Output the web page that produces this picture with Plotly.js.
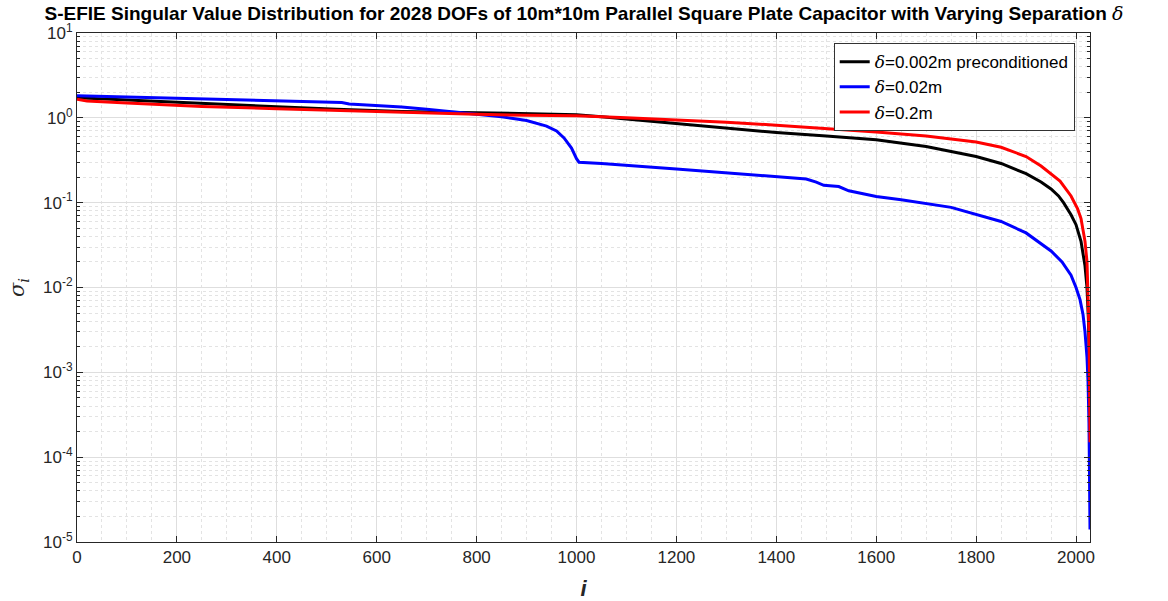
<!DOCTYPE html>
<html>
<head>
<meta charset="utf-8">
<script src="https://cdn.plot.ly/plotly-3.0.1.min.js"></script>
<style>html,body{margin:0;padding:0;background:#fff;}#chart{width:1168px;height:601px;}</style>
</head>
<body>
<div id="chart"></div>
<script>
// ---- Data ----
var seriesNames = ["δ=0.002m preconditioned", "δ=0.02m", "δ=0.2m"];

var blackI = [0, 100, 250, 400, 520, 650, 800, 950, 1000, 1050, 1100, 1200, 1300, 1350, 1400, 1500, 1600, 1700, 1800, 1850, 1900, 1930, 1950, 1965, 1975, 1990, 2000, 2010, 2018, 2022, 2025, 2028];
var blackS = [1.73, 1.62, 1.47, 1.35, 1.26, 1.19, 1.15, 1.12, 1.09, 1.03, 0.97, 0.86, 0.76, 0.71, 0.67, 0.61, 0.55, 0.46, 0.35, 0.29, 0.22, 0.175, 0.145, 0.12, 0.10, 0.072, 0.055, 0.035, 0.018, 0.01, 0.004, 0.0005];

var blueI = [0, 100, 200, 300, 400, 520, 530, 545, 600, 650, 700, 750, 800, 850, 900, 940, 960, 975, 990, 1000, 1005, 1050, 1200, 1400, 1460, 1480, 1495, 1525, 1545, 1600, 1650, 1750, 1850, 1900, 1950, 1972, 1990, 2000, 2008, 2014, 2018, 2022, 2024, 2026, 2027, 2028];
var blueS = [1.82, 1.76, 1.71, 1.65, 1.60, 1.54, 1.52, 1.46, 1.40, 1.34, 1.26, 1.18, 1.11, 1.03, 0.93, 0.80, 0.70, 0.58, 0.44, 0.33, 0.30, 0.29, 0.25, 0.205, 0.19, 0.175, 0.16, 0.155, 0.138, 0.118, 0.108, 0.088, 0.060, 0.044, 0.027, 0.020, 0.014, 0.010, 0.0072, 0.0048, 0.003, 0.0015, 0.0008, 0.00025, 0.00007, 0.000014];

var redI = [0, 20, 100, 250, 400, 520, 700, 800, 900, 1000, 1100, 1200, 1300, 1400, 1500, 1600, 1700, 1800, 1850, 1900, 1930, 1950, 1968, 1990, 2003, 2010, 2018, 2022, 2024, 2026, 2027, 2028];
var redS = [1.66, 1.58, 1.50, 1.36, 1.28, 1.22, 1.14, 1.10, 1.07, 1.06, 1.00, 0.95, 0.89, 0.82, 0.75, 0.68, 0.61, 0.52, 0.45, 0.35, 0.27, 0.22, 0.18, 0.12, 0.085, 0.065, 0.035, 0.02, 0.01, 0.003, 0.0008, 0.00015];

var xTickVals = [0, 200, 400, 600, 800, 1000, 1200, 1400, 1600, 1800, 2000];
var yTickVals = [1e-5, 1e-4, 1e-3, 1e-2, 1e-1, 1e0, 1e1];
var yTickText = ["10<sup>-5</sup>", "10<sup>-4</sup>", "10<sup>-3</sup>", "10<sup>-2</sup>", "10<sup>-1</sup>", "10<sup>0</sup>", "10<sup>1</sup>"];

// minor log grid positions (2..9 per decade)
var yMinor = [];
for (var d = -5; d < 1; d++) { for (var m = 2; m <= 9; m++) { yMinor.push(m * Math.pow(10, d)); } }

var font = "Liberation Sans, Arial, Helvetica, sans-serif";
var axisCol = "#262626";

var traces = [
  {x: blackI, y: blackS, name: seriesNames[0], mode: "lines", line: {color: "#000000", width: 3}},
  {x: blueI, y: blueS, name: seriesNames[1], mode: "lines", line: {color: "#0000FF", width: 3}},
  {x: redI, y: redS, name: seriesNames[2], mode: "lines", line: {color: "#FF0000", width: 3}}
];
traces.forEach(function(t){ t.name = t.name.replace("δ", "<i style=\"font-family:'DejaVu Serif',serif\">δ</i>"); });

var layout = {
  width: 1168, height: 601,
  paper_bgcolor: "#ffffff", plot_bgcolor: "#ffffff",
  margin: {l: 77, r: 78, t: 33, b: 59},
  font: {family: font, color: axisCol, size: 17},
  title: {
    text: "<b>S-EFIE Singular Value Distribution for 2028 DOFs of 10m*10m Parallel Square Plate Capacitor with Varying Separation <i style=\"font-family:'DejaVu Serif',serif;font-weight:normal\">δ</i></b>",
    font: {family: font, size: 19, color: "#000000"},
    x: 0.5, xref: "container", xanchor: "center",
    y: 1 - 13/601, yref: "container", yanchor: "middle"
  },
  xaxis: {
    range: [0, 2028],
    tickmode: "array", tickvals: xTickVals,
    ticks: "inside", ticklen: 6, tickcolor: axisCol, tickwidth: 1,
    showline: true, linecolor: axisCol, linewidth: 1, mirror: "allticks",
    showgrid: true, gridcolor: "#dedede", gridwidth: 1,
    zeroline: false,
    tickfont: {size: 17, color: axisCol},
    minor: {dtick: 50, tick0: 0, ticks: "", showgrid: true, gridcolor: "#e3e3e3", griddash: "dot", gridwidth: 1},
    title: {text: "<b><i>i</i></b>", font: {size: 22, color: axisCol}, standoff: 16}
  },
  yaxis: {
    type: "log", range: [-5, 1],
    tickmode: "array", tickvals: yTickVals, ticktext: yTickText,
    ticks: "inside", ticklen: 6, tickcolor: axisCol, tickwidth: 1,
    showline: true, linecolor: axisCol, linewidth: 1, mirror: "allticks",
    showgrid: true, gridcolor: "#dedede", gridwidth: 1,
    zeroline: false,
    tickfont: {size: 17, color: axisCol},
    minor: {tickmode: "array", tickvals: yMinor, ticks: "inside", ticklen: 3, tickcolor: axisCol, showgrid: true, gridcolor: "#e3e3e3", griddash: "dot", gridwidth: 1},
    title: {text: "<i style=\"font-family:'DejaVu Serif',serif\">σ<sub>i</sub></i>", font: {size: 21, color: axisCol}, standoff: 12}
  },
  showlegend: true,
  legend: {
    x: 0.747, y: 0.98, xanchor: "left", yanchor: "top",
    bgcolor: "#ffffff", bordercolor: "#333333", borderwidth: 1,
    font: {size: 17, color: "#000000"},
    tracegroupgap: 0, itemwidth: 30
  }
};

Plotly.newPlot("chart", traces, layout, {displayModeBar: false, staticPlot: true});
</script>
</body>
</html>
